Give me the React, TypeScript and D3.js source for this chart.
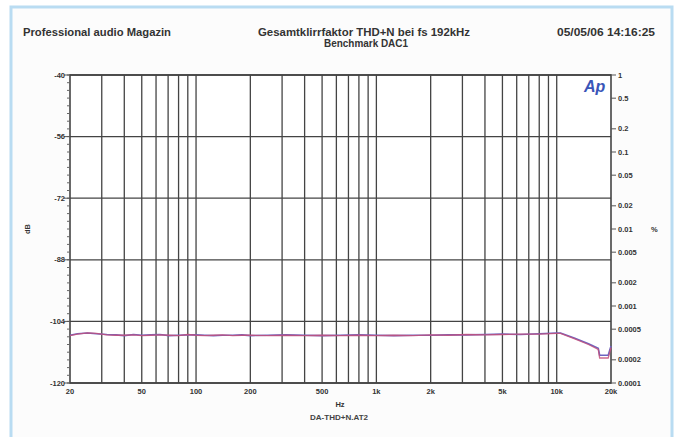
import React from "react";
import * as d3 from "d3";

const W = 679;
const H = 437;

const titleLeft = "Professional audio Magazin";
const titleCenter1 = "Gesamtklirrfaktor THD+N bei fs 192kHz";
const titleCenter2 = "Benchmark DAC1";
const titleRight = "05/05/06 14:16:25";
const xAxisTitle = "Hz";
const fileName = "DA-THD+N.AT2";
const leftAxisTitle = "dB";
const rightAxisTitle = "%";

const leftTicks = [-40, -56, -72, -88, -104, -120];
const rightTicks = [1, 0.5, 0.2, 0.1, 0.05, 0.02, 0.01, 0.005, 0.002, 0.001, 0.0005, 0.0002, 0.0001];
const rightTickLabels = ["1", "0.5", "0.2", "0.1", "0.05", "0.02", "0.01", "0.005", "0.002", "0.001", "0.0005", "0.0002", "0.0001"];
const xTicks = [20, 50, 100, 200, 500, 1000, 2000, 5000, 10000, 20000];
const xTickLabels = ["20", "50", "100", "200", "500", "1k", "2k", "5k", "10k", "20k"];

const freqs = [20, 22, 25, 28, 32, 36, 40, 45, 50, 56, 63, 71, 80, 90, 100, 112, 125, 140, 160, 180, 200, 250, 315, 400, 500, 630, 800, 1000, 1250, 1600, 2000, 2500, 3150, 4000, 5000, 6300, 8000, 10000, 10500, 12500, 15000, 17000, 17300, 19300, 20000];
const redValues = [-107.7, -107.3, -107.0, -107.1, -107.5, -107.6, -107.6, -107.5, -107.7, -107.6, -107.5, -107.6, -107.7, -107.4, -107.6, -107.7, -107.6, -107.5, -107.7, -107.6, -107.6, -107.7, -107.6, -107.7, -107.6, -107.7, -107.6, -107.7, -107.6, -107.7, -107.5, -107.6, -107.4, -107.5, -107.4, -107.3, -107.3, -107.1, -107.1, -108.5, -110.0, -111.3, -113.5, -113.5, -110.8];
const blueValues = [-107.6, -107.2, -107.0, -107.2, -107.4, -107.5, -107.7, -107.4, -107.6, -107.5, -107.4, -107.7, -107.6, -107.5, -107.5, -107.6, -107.7, -107.6, -107.6, -107.5, -107.7, -107.6, -107.5, -107.6, -107.7, -107.6, -107.5, -107.6, -107.7, -107.6, -107.6, -107.5, -107.5, -107.4, -107.3, -107.4, -107.2, -107.0, -107.0, -108.3, -109.8, -111.0, -112.8, -112.8, -110.4];

const PL = 70, PR = 611, PT = 75, PB = 383;

export default function App() {
  const x = d3.scaleLog().domain([20, 20000]).range([PL, PR]);
  const y = d3.scaleLinear().domain([-40, -120]).range([PT, PB]);
  const pctToDb = (p: number) => 20 * Math.log10(p / 100);

  const gridFreqs: number[] = [];
  for (const dec of [10, 100, 1000, 10000]) {
    for (let m = 1; m <= 9; m++) {
      const f = dec * m;
      if (f > 20 && f < 20000) gridFreqs.push(f);
    }
  }
  const minorLeft = d3.range(-40, -120.01, -2);

  const line = d3.line<number>().x((_, i) => x(freqs[i])).y((v) => y(v));
  const font = "'Liberation Sans', Arial, sans-serif";
  const txt = "#333";

  return (
    <svg width={W} height={H} style={{ position: "absolute", left: 0, top: 0 }} fontFamily={font}>
      <rect x={0} y={0} width={W} height={H} fill="#fff" />
      <rect x={11} y={7} width={661} height={440} fill="#fcfcfc" stroke="#b9dcf2" strokeWidth={3} />

      <text x={23} y={36} fontSize={10} fontWeight="bold" fill={txt} textLength={148} lengthAdjust="spacingAndGlyphs">{titleLeft}</text>
      <text x={364} y={36} fontSize={10} fontWeight="bold" fill={txt} textAnchor="middle" textLength={212} lengthAdjust="spacingAndGlyphs">{titleCenter1}</text>
      <text x={366} y={47} fontSize={10} fontWeight="bold" fill={txt} textAnchor="middle" textLength={84} lengthAdjust="spacingAndGlyphs">{titleCenter2}</text>
      <text x={655} y={36} fontSize={10} fontWeight="bold" fill={txt} textAnchor="end" textLength={98} lengthAdjust="spacingAndGlyphs">{titleRight}</text>

      <rect x={PL} y={PT} width={PR - PL} height={PB - PT} fill="#fff" />

      {gridFreqs.map((f) => (
        <line key={"v" + f} x1={x(f)} x2={x(f)} y1={PT} y2={PB} stroke="#444" strokeWidth={1.3} />
      ))}
      {leftTicks.map((t) => (
        <line key={"h" + t} x1={PL} x2={PR} y1={y(t)} y2={y(t)} stroke="#444" strokeWidth={1.3} />
      ))}
      <rect x={PL} y={PT} width={PR - PL} height={PB - PT} fill="none" stroke="#444" strokeWidth={1.6} />

      {minorLeft.map((t) => (
        <line key={"ml" + t} x1={PL - 3} x2={PL} y1={y(t)} y2={y(t)} stroke="#666" strokeWidth={1} />
      ))}
      {leftTicks.map((t) => (
        <g key={"lt" + t}>
          <line x1={PL - 6} x2={PL} y1={y(t)} y2={y(t)} stroke="#555" strokeWidth={1} />
          <text x={PL - 5} y={y(t) + 2.5} fontSize={7.5} fontWeight="bold" fill={txt} textAnchor="end">{t}</text>
        </g>
      ))}
      <text transform={`translate(30,229) rotate(-90)`} fontSize={7.5} fontWeight="bold" fill={txt} textAnchor="middle">{leftAxisTitle}</text>

      {rightTicks.map((p, i) => (
        <g key={"rt" + p}>
          <line x1={PR} x2={PR + 5} y1={y(pctToDb(p))} y2={y(pctToDb(p))} stroke="#555" strokeWidth={1} />
          <text x={PR + 7} y={y(pctToDb(p)) + 2.5} fontSize={7.5} fontWeight="bold" fill={txt}>{rightTickLabels[i]}</text>
        </g>
      ))}
      <text x={651} y={232} fontSize={7.5} fontWeight="bold" fill={txt}>{rightAxisTitle}</text>

      {xTicks.map((f, i) => (
        <text key={"xt" + f} x={x(f)} y={394} fontSize={7.5} fontWeight="bold" fill={txt} textAnchor="middle">{xTickLabels[i]}</text>
      ))}
      <text x={340} y={407} fontSize={7.5} fontWeight="bold" fill={txt} textAnchor="middle">{xAxisTitle}</text>
      <text x={339} y={420} fontSize={7} fontWeight="bold" fill="#444" textAnchor="middle" textLength={58} lengthAdjust="spacingAndGlyphs">{fileName}</text>

      <path d={line(blueValues) || ""} fill="none" stroke="#6c64c0" strokeWidth={1.6} />
      <path d={line(redValues) || ""} fill="none" stroke="#c4507a" strokeWidth={1.3} strokeOpacity={0.85} />

      <text x={584} y={92} fontSize={16} fontWeight="bold" fontStyle="italic" fill="#3a55b8">Ap</text>
    </svg>
  );
}
